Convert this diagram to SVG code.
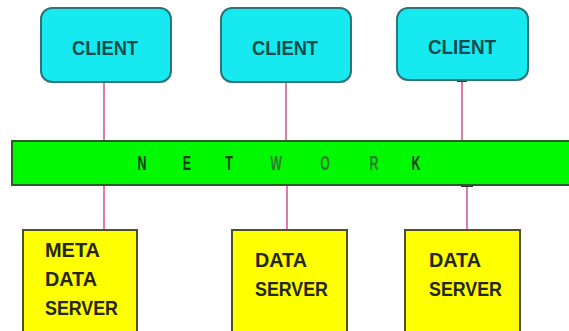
<svg xmlns="http://www.w3.org/2000/svg" width="569" height="331" viewBox="0 0 569 331">
  <style>
    .client { fill: #16eaf0; stroke: #2b7478; stroke-width: 2; }
    .server { fill: #ffff00; stroke: #4f4f2a; stroke-width: 2; }
    .net { fill: #00f800; stroke: #2d5a2d; stroke-width: 2; }
    .link { stroke: #e07aad; stroke-width: 2; fill: none; }
    .ctext { font-family: "Liberation Sans", Arial, sans-serif; font-size: 20px; font-weight: bold; fill: #134a4e; text-anchor: middle; }
    .stext { font-family: "Liberation Sans", Arial, sans-serif; font-size: 19.5px; font-weight: bold; fill: #262618; }
    .ntext { font-family: "Liberation Sans", Arial, sans-serif; font-size: 20px; font-weight: bold; fill: #143c14; text-anchor: middle; }
    .ntext.light { fill: #2f7d2f; }
  </style>
  <rect width="569" height="331" fill="#ffffff"/>

  <!-- connectors -->
  <g id="connectors">
    <line class="link" x1="104" y1="81" x2="104" y2="141"/>
    <line class="link" x1="286" y1="81" x2="286" y2="141"/>
    <line class="link" x1="462" y1="80" x2="462" y2="141"/>
    <line class="link" x1="104" y1="185" x2="104" y2="230"/>
    <line class="link" x1="287" y1="185" x2="287" y2="230"/>
    <line class="link" x1="467" y1="185" x2="467" y2="230"/>
    <line x1="457" y1="81" x2="467" y2="81" stroke="#333" stroke-width="2"/>
    <line x1="461" y1="186" x2="473" y2="186" stroke="#333" stroke-width="2"/>
  </g>

  <!-- clients -->
  <g id="client1">
    <rect class="client" x="41" y="8" width="130" height="74" rx="11"/>
    <text class="ctext" x="105" y="55" textLength="66" lengthAdjust="spacingAndGlyphs">CLIENT</text>
  </g>
  <g id="client2">
    <rect class="client" x="221" y="8" width="130" height="74" rx="11"/>
    <text class="ctext" x="285" y="55" textLength="66" lengthAdjust="spacingAndGlyphs">CLIENT</text>
  </g>
  <g id="client3">
    <rect class="client" x="397" y="8" width="131" height="72" rx="11"/>
    <text class="ctext" x="462" y="54" textLength="68" lengthAdjust="spacingAndGlyphs">CLIENT</text>
  </g>

  <!-- network bus -->
  <g id="network">
    <rect class="net" x="12" y="141" width="566" height="44"/>
    <text class="ntext" transform="translate(142,170) scale(0.62,1)">N</text>
    <text class="ntext" transform="translate(187,170) scale(0.62,1)">E</text>
    <text class="ntext" transform="translate(229,170) scale(0.62,1)">T</text>
    <text class="ntext light" transform="translate(276,170) scale(0.62,1)">W</text>
    <text class="ntext light" transform="translate(325,170) scale(0.62,1)">O</text>
    <text class="ntext light" transform="translate(374,170) scale(0.62,1)">R</text>
    <text class="ntext" transform="translate(416,170) scale(0.62,1)">K</text>
  </g>

  <!-- servers -->
  <g id="meta-data-server">
    <rect class="server" x="23" y="230" width="114" height="103"/>
    <text class="stext" x="45" y="257" textLength="55" lengthAdjust="spacingAndGlyphs">META</text>
    <text class="stext" x="45" y="286" textLength="52" lengthAdjust="spacingAndGlyphs">DATA</text>
    <text class="stext" x="45" y="315" textLength="73" lengthAdjust="spacingAndGlyphs">SERVER</text>
  </g>
  <g id="data-server1">
    <rect class="server" x="232" y="230" width="115" height="103"/>
    <text class="stext" x="255" y="267" textLength="52" lengthAdjust="spacingAndGlyphs">DATA</text>
    <text class="stext" x="255" y="296" textLength="73" lengthAdjust="spacingAndGlyphs">SERVER</text>
  </g>
  <g id="data-server2">
    <rect class="server" x="405" y="230" width="115" height="103"/>
    <text class="stext" x="429" y="267" textLength="52" lengthAdjust="spacingAndGlyphs">DATA</text>
    <text class="stext" x="429" y="296" textLength="73" lengthAdjust="spacingAndGlyphs">SERVER</text>
  </g>
</svg>
